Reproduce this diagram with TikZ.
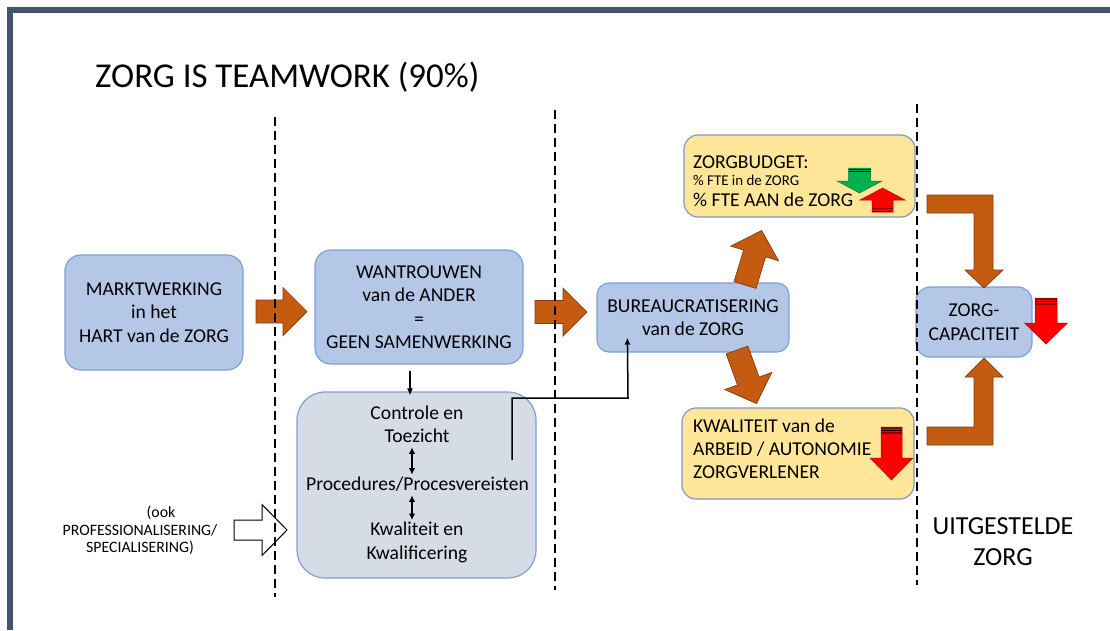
\documentclass[tikz,border=0pt]{standalone}
\usepackage{fontspec}
\setmainfont{Carlito}
\usepackage{tikz}
\usetikzlibrary{arrows.meta}
\definecolor{kaderblauw}{HTML}{44546A}
\definecolor{vakblauw}{HTML}{B4C7E7}
\definecolor{randblauw}{HTML}{7F9FD5}
\definecolor{vakgrijs}{HTML}{D6DCE5}
\definecolor{vakgeel}{HTML}{FFE699}
\definecolor{oranje}{HTML}{C55A11}
\definecolor{donkeroranje}{HTML}{843C0C}
\definecolor{groen}{HTML}{00B050}
\definecolor{rood}{HTML}{FF0000}
\definecolor{donkerrood}{HTML}{8B0000}
% blokpijl: [stijl]{staart}{hoek}{lengte}{halve schacht}{halve kop}{koplengte}
\newcommand{\blokpijl}[7][]{%
	\filldraw[#1,shift={(#2)},rotate=#3] (0,-#5) -- ({#4-#7},-#5) -- ({#4-#7},-#6) -- (#4,0) -- ({#4-#7},#6) -- ({#4-#7},#5) -- (0,#5) -- cycle;}

\begin{document}
\begin{tikzpicture}[x=1pt,y=-1pt,
		tekst/.style={font=\fontsize{19.6}{23.5}\selectfont, align=center, inner sep=0pt},
		blauwvak/.style={draw=randblauw, fill=vakblauw, line width=1.2pt, rounded corners=16pt, tekst},
		grijsvak/.style={draw=randblauw, fill=vakgrijs, line width=1.2pt, rounded corners=28pt},
		geelvak/.style={draw=randblauw!80!gray, fill=vakgeel, line width=1.2pt, rounded corners=14pt},
		oranjepijl/.style={fill=oranje, draw=donkeroranje, line width=0.7pt},
		zwartepijl/.style={line width=1.5pt, -{Latex[length=7pt,width=6pt]}},
		dubbelpijl/.style={line width=1.6pt, {Latex[length=6.5pt,width=6.5pt]}-{Latex[length=6.5pt,width=6.5pt]}},
		streeplijn/.style={line width=1.4pt, dash pattern=on 9pt off 5pt}]
	\useasboundingbox (0,0) rectangle (1110,630);
	% kader
	\draw[kaderblauw, line width=6pt] (10,630) -- (10,10) -- (1110,10);
	\node[anchor=west, font=\fontsize{34.9}{40}\selectfont, inner sep=0pt] (titel) at (95,77) {ZORG IS TEAMWORK (90\%)};

	% vakken
	\node[blauwvak, minimum width=178pt, minimum height=115pt] (markt) at (154,312.5) {MARKTWERKING\\in het\\HART van de ZORG};
	\node[blauwvak, minimum width=208pt, minimum height=114pt] (wantrouwen) at (419,307) {WANTROUWEN\\van de ANDER\\=\\GEEN SAMENWERKING};
	\node[blauwvak, rounded corners=12pt, minimum width=192pt, minimum height=69pt] (bureau) at (693,317.5) {BUREAUCRATISERING\\van de ZORG};
	\node[blauwvak, rounded corners=14pt, minimum width=116pt, minimum height=70pt] (capaciteit) at (974,322) {ZORG-\\CAPACITEIT};
	\node[grijsvak, minimum width=239pt, minimum height=186pt] (controle) at (416.5,485) {};
	\node[tekst] (toezicht) at (417,424.5) {Controle en\\Toezicht};
	\node[tekst] (procedures) at (417.5,484) {Procedures/Procesvereisten};
	\node[tekst] (kwalificering) at (417,542.5) {Kwaliteit en\\Kwalificering};
	\node[geelvak, minimum width=231pt, minimum height=82pt] (budget) at (799.5,176) {};
	\node[tekst, anchor=west, align=left, font=\fontsize{19.6}{19}\selectfont] (budgettekst) at (693,181) {ZORGBUDGET:\\[-1.3pt]{\fontsize{14.9}{17}\selectfont \% FTE in de ZORG}\\[1.3pt]\% FTE AAN de ZORG};
	\node[geelvak, minimum width=232pt, minimum height=91pt] (kwaliteit) at (798,453.5) {};
	\node[tekst, anchor=west, align=left, font=\fontsize{19.6}{23}\selectfont] (kwaliteittekst) at (693,449) {KWALITEIT van de\\ARBEID / AUTONOMIE\\ZORGVERLENER};
	\node[tekst, font=\fontsize{15.8}{17.5}\selectfont] (ook) at (140,530.5) {\hspace*{42pt}(ook\\PROFESSIONALISERING/\\SPECIALISERING)};
	\node[tekst, font=\fontsize{26}{31}\selectfont] (uitgesteld) at (1003,541.5) {UITGESTELDE\\ZORG};

	% blokpijlen
	\blokpijl[oranjepijl]{256,311.5}{0}{51}{11.5}{24}{24}
	\blokpijl[oranjepijl]{535,312}{0}{52}{11.5}{24}{24}
	\blokpijl[oranjepijl]{745,285}{73}{57}{11.5}{25}{24}
	\blokpijl[oranjepijl]{737,350}{-70}{57}{11.5}{25}{24}
	\blokpijl[draw=black, fill=white, line width=1pt]{234,530}{0}{53}{10}{25.5}{25}
	\filldraw[oranjepijl] (927,195) -- (993,195) -- (993,270) -- (1003,270) -- (984,288) -- (965,270) -- (974,270) -- (974,213) -- (927,213) -- cycle;
	\filldraw[oranjepijl] (927,445) -- (993,445) -- (993,377) -- (1003,377) -- (984,358) -- (965,377) -- (974,377) -- (974,427) -- (927,427) -- cycle;

	% rode en groene pijlen
	\blokpijl[fill=groen, draw=groen!70!black, line width=0.5pt]{859.5,168}{-90}{25}{11}{22.5}{12}
	\draw[line width=1pt] (848.5,169) -- (870.5,169);
	\draw[line width=1pt] (848.5,171.5) -- (870.5,171.5);
	\blokpijl[fill=rood, draw=rood!70!black, line width=0.5pt]{882.5,212}{90}{24}{10.5}{22.5}{12}
	\draw[line width=1pt] (872,211) -- (893,211);
	\draw[donkerrood, line width=1.5pt] (872,208.5) -- (893,208.5);
	\blokpijl[fill=rood, draw=rood!70!black, line width=0.5pt]{1046,298}{-90}{46}{11}{21.5}{21}
	\draw[donkerrood, line width=1.5pt] (1035,299) -- (1057,299);
	\draw[line width=0.8pt] (1035,301.5) -- (1057,301.5);
	\draw[donkerrood, line width=1.5pt] (1035,304) -- (1057,304);
	\blokpijl[fill=rood, draw=rood!70!black, line width=0.5pt]{891.5,427}{-90}{53}{10.5}{21.5}{22}
	\draw[donkerrood, line width=1.5pt] (881,428) -- (902,428);
	\draw[line width=0.8pt] (881,430.5) -- (902,430.5);
	\draw[donkerrood, line width=1.5pt] (881,433) -- (902,433);

	% verbindingen
	\draw[zwartepijl, shorten <=6pt, shorten >=-4pt] ([xshift=-9pt]wantrouwen.south) -- ([xshift=-9pt]wantrouwen.south |- controle.north);
	\draw[dubbelpijl, shorten <=4pt, shorten >=2pt] ([xshift=-5pt]toezicht.south) -- ([xshift=-5.5pt]procedures.north);
	\draw[dubbelpijl, shorten <=4pt, shorten >=2pt] ([xshift=-5.5pt]procedures.south) -- ([xshift=-5pt]kwalificering.north);
	\coordinate (uitgang) at (512,460);
	\coordinate (bocht) at (628,398);
	\draw[zwartepijl] (uitgang) |- (bocht) -- ([xshift=31pt,yshift=15pt]bureau.south west);

	% streeplijnen
	\draw[streeplijn] (275,117) -- (275,597);
	\draw[streeplijn] (555,110) -- (555,590);
	\draw[streeplijn] (917,104) -- (917,585);
\end{tikzpicture}
\end{document}
